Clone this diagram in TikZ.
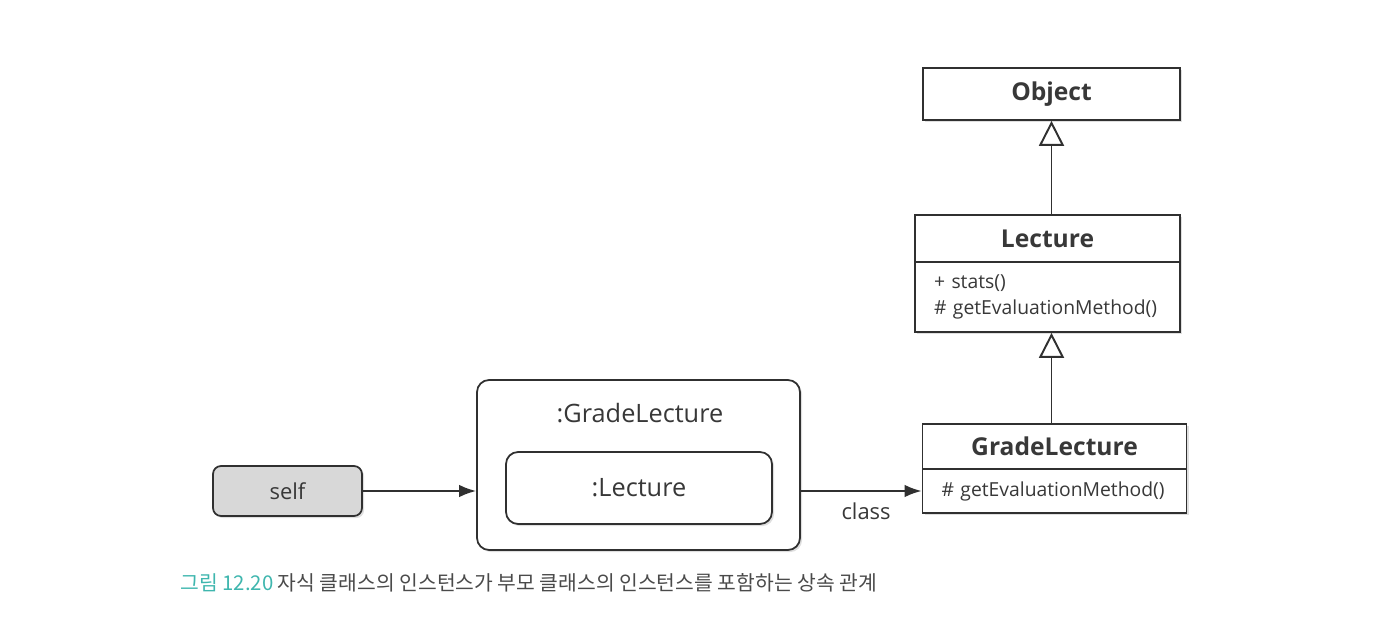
\documentclass[tikz,border=0pt]{standalone}
\usepackage{fontspec}
\setmainfont{Open Sans}
\newfontfamily\krfont{Noto Sans CJK KR}
\usetikzlibrary{arrows.meta,shadows}
\definecolor{linegray}{HTML}{303030}
\definecolor{textgray}{HTML}{383838}
\definecolor{captionteal}{HTML}{3FB6AE}
\definecolor{captiongray}{HTML}{4A4A4A}
\definecolor{selffill}{HTML}{D8D8D8}
\tikzset{
  boxshadow/.style={drop shadow={shadow xshift=1.2pt, shadow yshift=-1.2pt, opacity=0.25}},
  classbox/.style={draw=linegray, line width=1pt, fill=white, boxshadow, inner sep=0pt,
    text=textgray, font=\fontsize{14}{17}\selectfont\bfseries},
  methodbox/.style={draw=linegray, line width=1pt, fill=white, boxshadow, inner ysep=0pt,
    inner xsep=0.38cm, align=left, text=textgray, font=\fontsize{11}{14.8}\selectfont},
  objbox/.style={draw=linegray, line width=1pt, fill=white, rounded corners=0.24cm,
    boxshadow, inner sep=0pt, text=textgray, font=\fontsize{14.4}{17}\selectfont},
  link/.style={draw=linegray, line width=1.1pt, -{Latex[length=0.34cm, width=0.25cm]}},
  inherit/.style={draw=linegray, line width=1.1pt,
    -{Triangle[open, length=0.5cm, width=0.5cm, fill=white]}}
}
\begin{document}
\begin{tikzpicture}[x=0.02cm, y=-0.02cm]
  \useasboundingbox (0,0) rectangle (1382,624);
  \node[classbox, minimum width=5.14cm, minimum height=1.04cm] (obj) at (1051.5,94) {Object};
  \node[classbox, minimum width=5.3cm, minimum height=0.94cm] (ltitle) at (1047.5,238.5) {Lecture};
  \node[methodbox, text width=4.54cm, minimum height=1.4cm] (lmeth) at (1047.5,297)
    {+ stats()\\\# getEvaluationMethod()};
  \node[classbox, minimum width=5.28cm, minimum height=0.9cm] (gtitle) at (1054.5,446.5) {GradeLecture};
  \node[methodbox, text width=4.52cm, minimum height=0.88cm] (gmeth) at (1054.5,491)
    {\# getEvaluationMethod()};
  \draw[inherit] (ltitle.north -| obj.south) -- (obj.south);
  \draw[inherit] (gtitle.north -| obj.south) -- (lmeth.south -| obj.south);

  \node[objbox, fill=selffill, rounded corners=0.16cm, minimum width=2.98cm, minimum height=1cm,
    font=\fontsize{12.5}{15}\selectfont] (self) at (287.5,491) {self};
  \node[objbox, minimum width=6.46cm, minimum height=3.4cm] (outer) at (638.5,465) {};
  \node[text=textgray, font=\fontsize{14.4}{17}\selectfont] (otitle) at (640,413) {:GradeLecture};
  \node[objbox, minimum width=5.32cm, minimum height=1.44cm] (inner) at (639,488) {:Lecture};
  \draw[link] (self.east) -- (outer.west |- self.east);
  \draw[link] (outer.east |- gmeth.west) -- (gmeth.west)
    node[pos=0.54, below=3pt, text=textgray, font=\fontsize{12.5}{15}\selectfont] (classlbl) {class};

  \node[anchor=west, inner sep=0pt, font=\krfont\fontsize{11.6}{14}\selectfont] (caption) at (180,583)
    {\textcolor{captionteal}{그림 12.20} \textcolor{captiongray}{자식 클래스의 인스턴스가 부모 클래스의 인스턴스를 포함하는 상속 관계}};
\end{tikzpicture}
\end{document}
